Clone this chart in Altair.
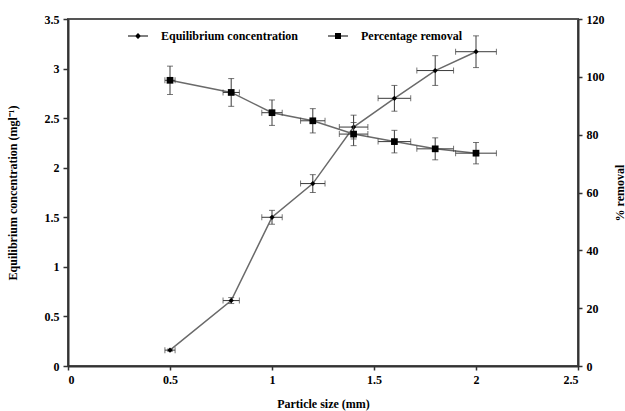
import altair as alt
import pandas as pd

# Particle size (mm) and its horizontal uncertainty
size = [0.5, 0.8, 1.0, 1.2, 1.4, 1.6, 1.8, 2.0]
size_err = [0.025, 0.04, 0.05, 0.06, 0.07, 0.08, 0.09, 0.10]

# Equilibrium concentration (mg/l) with error
eq_conc = [0.16, 0.66, 1.50, 1.84, 2.41, 2.70, 2.98, 3.17]
eq_err = [0.01, 0.03, 0.07, 0.09, 0.12, 0.13, 0.15, 0.16]

# Percentage removal (%) with error
removal = [98.8, 94.6, 87.6, 84.8, 80.2, 77.6, 75.1, 73.6]
removal_err = [4.9, 4.8, 4.4, 4.2, 4.0, 3.9, 3.8, 3.7]

series_names = ["Equilibrium concentration", "Percentage removal"]

df = pd.DataFrame({
    "size": size,
    "size_lo": [s - e for s, e in zip(size, size_err)],
    "size_hi": [s + e for s, e in zip(size, size_err)],
    "eq": eq_conc,
    "eq_lo": [v - e for v, e in zip(eq_conc, eq_err)],
    "eq_hi": [v + e for v, e in zip(eq_conc, eq_err)],
    "rem": removal,
    "rem_lo": [v - e for v, e in zip(removal, removal_err)],
    "rem_hi": [v + e for v, e in zip(removal, removal_err)],
})

FONT = "Liberation Serif"
LINE = "#6a6a6a"
BAR = "#3a3a3a"

x_scale = alt.Scale(domain=[0, 2.5], nice=False, zero=True)
x_axis = alt.Axis(
    values=[0, 0.5, 1, 1.5, 2, 2.5], format="~g", title="Particle size (mm)",
    tickSize=4, labelPadding=4, titlePadding=13, grid=False,
)

left_scale = alt.Scale(domain=[0, 3.5], nice=False)
left_axis = alt.Axis(
    values=[0, 0.5, 1, 1.5, 2, 2.5, 3, 3.5], format="~g",
    title="Equilibrium concentration (mgl\u207b\u00b9)",
    tickSize=5, labelPadding=4, titlePadding=25, grid=False,
)
right_scale = alt.Scale(domain=[0, 120], nice=False)
right_axis = alt.Axis(
    values=[0, 20, 40, 60, 80, 100, 120], title="% removal", orient="right",
    tickSize=4, labelPadding=4, titlePadding=22, titleAngle=270, grid=False,
)

base = alt.Chart(df)
X = alt.X("size:Q", scale=x_scale, axis=x_axis)


def series_layers(val, lo, hi, yscale, yaxis, shape, msize):
    Y = alt.Y(f"{val}:Q", scale=yscale, axis=yaxis)
    line = base.mark_line(color=LINE, strokeWidth=1.5).encode(x=X, y=Y)
    vbar = base.mark_rule(color=BAR, strokeWidth=1).encode(
        x="size:Q", y=alt.Y(f"{lo}:Q"), y2=f"{hi}:Q")
    hbar = base.mark_rule(color=BAR, strokeWidth=1).encode(
        y=f"{val}:Q", x="size_lo:Q", x2="size_hi:Q")
    cap_lo = base.mark_tick(color=BAR, orient="horizontal", size=6, thickness=1).encode(
        x="size:Q", y=f"{lo}:Q")
    cap_hi = base.mark_tick(color=BAR, orient="horizontal", size=6, thickness=1).encode(
        x="size:Q", y=f"{hi}:Q")
    cap_l = base.mark_tick(color=BAR, orient="vertical", size=6, thickness=1).encode(
        x="size_lo:Q", y=f"{val}:Q")
    cap_r = base.mark_tick(color=BAR, orient="vertical", size=6, thickness=1).encode(
        x="size_hi:Q", y=f"{val}:Q")
    pts = base.mark_point(shape=shape, filled=True, color="black", opacity=1,
                          size=msize).encode(x="size:Q", y=f"{val}:Q")
    return [line, vbar, hbar, cap_lo, cap_hi, cap_l, cap_r, pts]


# Legend symbols (filled paths): a thin bar with the series marker at its centre
sym_eq = "M-1,-0.06H1V0.06H-1ZM0,-0.3L0.3,0L0,0.3L-0.3,0Z"
sym_rem = "M-1,-0.06H1V0.06H-1ZM-0.3,-0.3H0.3V0.3H-0.3Z"

legend_df = pd.DataFrame({"series": series_names, "size": [size[0]] * 2, "eq": [eq_conc[0]] * 2})
legend_layer = alt.Chart(legend_df).mark_point(
    opacity=0, filled=True, color="black",
).encode(
    x="size:Q",
    y="eq:Q",
    shape=alt.Shape(
        "series:N",
        scale=alt.Scale(domain=series_names, range=[sym_eq, sym_rem]),
        legend=alt.Legend(
            title=None, orient="none", legendX=59, legendY=6,
            direction="horizontal", columnPadding=26, labelOffset=12,
            symbolSize=400, symbolOpacity=1, symbolFillColor="#1a1a1a",
            labelFont=FONT, labelFontSize=12, labelFontWeight="bold",
            labelColor="black",
        ),
    ),
)

left = alt.layer(
    *series_layers("eq", "eq_lo", "eq_hi", left_scale, left_axis, "diamond", 28),
    legend_layer,
)
right = alt.layer(
    *series_layers("rem", "rem_lo", "rem_hi", right_scale, right_axis, "square", 45),
)

chart = (
    alt.layer(left, right)
    .resolve_scale(y="independent")
    .properties(
        width=510, height=347,
        autosize=alt.AutoSizeParams(type="none"),
        padding={"left": 68, "top": 19, "right": 47, "bottom": 45},
        background="white",
    )
    .configure_view(stroke="#555", strokeWidth=2)
    .configure_axis(
        labelFont=FONT, labelFontSize=12, labelFontWeight="bold", labelColor="black",
        titleFont=FONT, titleFontSize=12, titleFontWeight="bold", titleColor="black",
        domainColor="#333", domainWidth=2, tickColor="#333", tickWidth=1.5,
    )
)

chart.save("out.html", embed_options={"renderer": "svg", "actions": False})
